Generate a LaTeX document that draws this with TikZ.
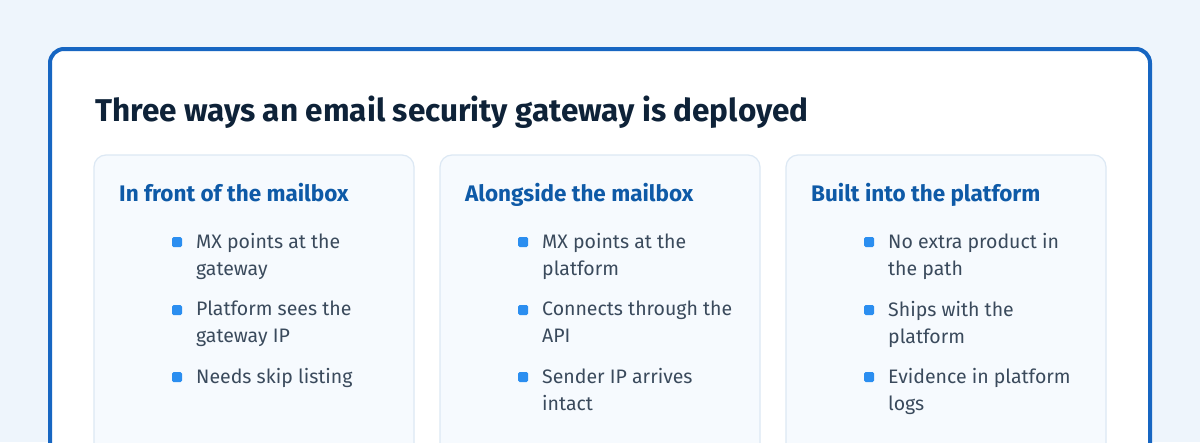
\documentclass[tikz,border=0pt]{standalone}
\usepackage{fontspec}
\setmainfont{Fira Sans}
\definecolor{pagebg}{HTML}{EEF5FC}
\definecolor{cardedge}{HTML}{1766C2}
\definecolor{paneledge}{HTML}{DCE8F4}
\definecolor{panelfill}{HTML}{F6FAFE}
\definecolor{titlecol}{HTML}{0E2238}
\definecolor{headcol}{HTML}{0E5AA7}
\definecolor{bodycol}{HTML}{3A4A5C}
\definecolor{dotcol}{HTML}{2B8EF0}
\begin{document}
\begin{tikzpicture}[x=1pt, y=-1pt,
    card/.style={draw=cardedge, line width=4pt, fill=white, rounded corners=14pt},
    panel/.style={draw=paneledge, line width=1.2pt, fill=panelfill, rounded corners=12pt},
    title/.style={anchor=base west, inner sep=0pt, font=\fontsize{31.5}{36}\selectfont\bfseries, text=titlecol},
    head/.style={anchor=base west, inner sep=0pt, font=\fontsize{22.5}{26}\selectfont\bfseries, text=headcol},
    item/.style={anchor=north west, inner sep=0pt, align=left, text=bodycol,
        font=\fontsize{19.5}{27}\selectfont},
    dot/.style={fill=dotcol, rounded corners=1.5pt, minimum size=10pt, inner sep=0pt}
]
    \fill[pagebg] (0,0) rectangle (1200,442);
    \useasboundingbox (0,0) rectangle (1200,442);
    \begin{scope}
        \clip (0,0) rectangle (1200,442);
        \draw[card] (50,49) rectangle (1150,480);
        \draw[panel] (94,155) rectangle (414,470);
        \draw[panel] (440,155) rectangle (760,470);
        \draw[panel] (786,155) rectangle (1106,470);
    \end{scope}
    \node[title] (ttl) at (95,121) {Three ways an email security gateway is deployed};
    % column headings
    \node[head] (h1) at (119,201) {In front of the mailbox};
    \node[head] (h2) at (465,201) {Alongside the mailbox};
    \node[head] (h3) at (811,201) {Built into the platform};
    % bullets, one loop per column
    \foreach \cx/\ta/\tb/\tc in {
        0/{MX points at the\\gateway}/{Platform sees the\\gateway IP}/{Needs skip listing},
        346/{MX points at the\\platform}/{Connects through the\\API}/{Sender IP arrives\\intact},
        692/{No extra product in\\the path}/{Ships with the\\platform}/{Evidence in platform\\logs}} {
        \node[dot] (d1) at (177+\cx,242) {};
        \node[item] (t1) at (196+\cx,233) {\ta};
        \node[dot] (d2) at (177+\cx,310) {};
        \node[item] (t2) at (196+\cx,301) {\tb};
        \node[dot] (d3) at (177+\cx,377) {};
        \node[item] (t3) at (196+\cx,368) {\tc};
    }
\end{tikzpicture}
\end{document}
